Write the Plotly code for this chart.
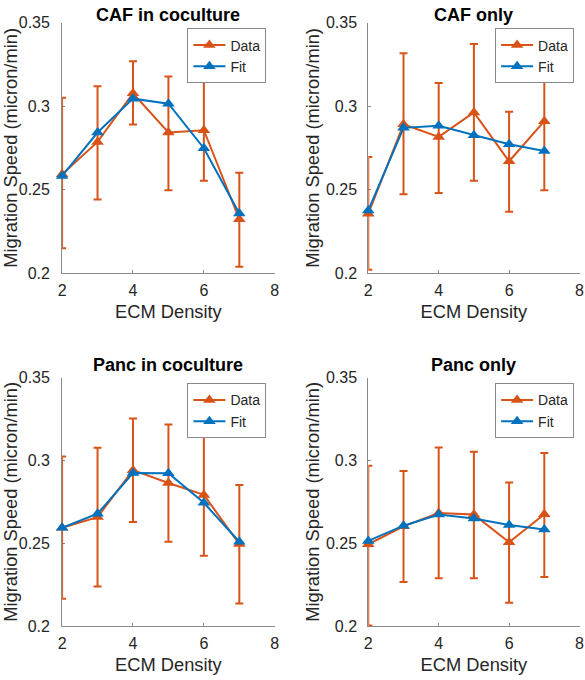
import plotly.graph_objects as go

# ECM density levels shared by all four panels
ecm_density = [2, 3, 4, 5, 6, 7]

panel_titles = ['CAF in coculture', 'CAF only', 'Panc in coculture', 'Panc only']

# measured speeds with upper / lower error bar ends
caf_co_data = [0.2592, 0.2786, 0.3077, 0.2842, 0.2856, 0.2323]
caf_co_upper = [0.305, 0.3119, 0.3269, 0.3177, 0.3151, 0.2602]
caf_co_lower = [0.215, 0.2441, 0.289, 0.2497, 0.2553, 0.2038]
caf_co_fit = [0.2582, 0.2842, 0.3045, 0.3015, 0.2748, 0.2357]

caf_only_data = [0.2356, 0.2892, 0.2816, 0.2962, 0.267, 0.291]
caf_only_upper = [0.2696, 0.3316, 0.3138, 0.3372, 0.2966, 0.3324]
caf_only_lower = [0.202, 0.2472, 0.248, 0.2554, 0.2368, 0.2496]
caf_only_fit = [0.2376, 0.287, 0.2882, 0.2826, 0.2772, 0.2732]

panc_co_data = [0.2594, 0.2658, 0.2941, 0.2864, 0.2792, 0.2495]
panc_co_upper = [0.3023, 0.3077, 0.3253, 0.3217, 0.3155, 0.2852]
panc_co_lower = [0.2166, 0.2239, 0.2628, 0.2509, 0.2425, 0.2136]
panc_co_fit = [0.2594, 0.2678, 0.2924, 0.2922, 0.2744, 0.2509]

panc_only_data = [0.2494, 0.2602, 0.2683, 0.2673, 0.2506, 0.2675]
panc_only_upper = [0.2968, 0.2936, 0.3078, 0.3052, 0.2867, 0.3044]
panc_only_lower = [0.2004, 0.2267, 0.2289, 0.2289, 0.2141, 0.2297]
panc_only_fit = [0.2514, 0.2606, 0.2673, 0.2649, 0.261, 0.2583]

panels = [
    (caf_co_data, caf_co_upper, caf_co_lower, caf_co_fit),
    (caf_only_data, caf_only_upper, caf_only_lower, caf_only_fit),
    (panc_co_data, panc_co_upper, panc_co_lower, panc_co_fit),
    (panc_only_data, panc_only_upper, panc_only_lower, panc_only_fit),
]

ORANGE = '#D95319'
BLUE = '#0072BD'
AXIS_GREY = '#8a8a8a'
FONT = 'Arial, Liberation Sans, sans-serif'
W, H = 585, 680

# pixel boxes of each axes (left, right, top, bottom)
boxes = [(59, 275, 15, 272), (370, 584.5, 15, 272),
         (59, 275, 379, 634), (370, 584.5, 379, 634)]
legend_pos = [(266.5, 21), (579, 21), (266.5, 385), (579, 385)]
title_y = [7, 7, 366, 366]
label_gap = [8, 7, 8, 7]

fig = go.Figure()
layout = dict(width=W, height=H, margin=dict(l=0, r=0, t=0, b=0),
              paper_bgcolor='white', plot_bgcolor='white',
              font=dict(family=FONT, color='#262626'), annotations=[])

for i, (data, upper, lower, fit) in enumerate(panels):
    n = i + 1
    xa = 'x' if n == 1 else f'x{n}'
    ya = 'y' if n == 1 else f'y{n}'
    leg = 'legend' if n == 1 else f'legend{n}'
    err_plus = [u - d for u, d in zip(upper, data)]
    err_minus = [d - l for d, l in zip(data, lower)]
    fig.add_trace(go.Scatter(
        x=ecm_density, y=data, name='Data', xaxis=xa, yaxis=ya, legend=leg,
        mode='lines+markers', cliponaxis=False,
        line=dict(color=ORANGE, width=2),
        marker=dict(symbol='triangle-up', size=11, color=ORANGE),
        error_y=dict(type='data', symmetric=False, array=err_plus,
                     arrayminus=err_minus, color=ORANGE, thickness=2, width=4)))
    fig.add_trace(go.Scatter(
        x=ecm_density, y=fit, name='Fit', xaxis=xa, yaxis=ya, legend=leg,
        mode='lines+markers', cliponaxis=False,
        line=dict(color=BLUE, width=2),
        marker=dict(symbol='triangle-up', size=11, color=BLUE)))

    left, right, top, bottom = boxes[i]
    xkey = 'xaxis' if n == 1 else f'xaxis{n}'
    ykey = 'yaxis' if n == 1 else f'yaxis{n}'
    layout[xkey] = dict(domain=[left / W, right / W], anchor=ya, range=[2, 8],
                        tickvals=[2, 4, 6, 8], ticks='inside', ticklen=3,
                        tickcolor=AXIS_GREY, showline=True, linecolor=AXIS_GREY,
                        linewidth=1, showgrid=False, zeroline=False,
                        layer='below traces', tickfont=dict(size=16),
                        ticklabelstandoff=3,
                        title=dict(text='ECM Density', font=dict(size=18.3),
                                   standoff=6))
    layout[ykey] = dict(domain=[1 - bottom / H, 1 - top / H], anchor=xa,
                        range=[0.2, 0.35], tickvals=[0.2, 0.25, 0.3, 0.35],
                        ticktext=['0.2', '0.25', '0.3', '0.35'],
                        ticks='inside', ticklen=3, tickcolor=AXIS_GREY,
                        showline=True, linecolor=AXIS_GREY, linewidth=1,
                        showgrid=False, zeroline=False, layer='below traces',
                        tickfont=dict(size=16), ticklabelstandoff=label_gap[i],
                        title=dict(text='Migration Speed (micron/min)',
                                   font=dict(size=18.3), standoff=1))
    lx, ly = legend_pos[i]
    layout[leg] = dict(x=lx / W, y=1 - ly / H, xanchor='right', yanchor='top',
                       xref='paper', yref='paper', bgcolor='white',
                       bordercolor=AXIS_GREY, borderwidth=1,
                       font=dict(size=14), itemwidth=32, tracegroupgap=0)
    layout['annotations'].append(dict(
        text=f'<b>{panel_titles[i]}</b>', x=(left + right) / 2 / W,
        y=1 - title_y[i] / H, xref='paper', yref='paper', showarrow=False,
        xanchor='center', yanchor='middle', font=dict(size=18, color='black')))

fig.update_layout(**layout)
# drop the default body margin so the 585x680 figure fills the window exactly
fig.write_html('out.html', config={'displayModeBar': False},
               post_script="document.body.style.margin='0px';")
